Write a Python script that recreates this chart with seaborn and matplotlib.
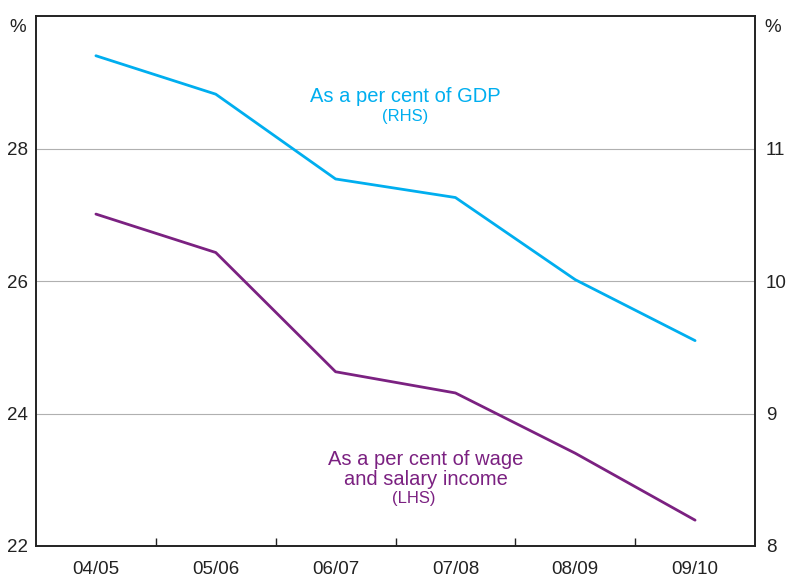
import matplotlib
matplotlib.use("Agg")
import matplotlib.pyplot as plt
import seaborn as sns
import pandas as pd

categories = ["04/05", "05/06", "06/07", "07/08", "08/09", "09/10"]
wage_share = [27.01, 26.43, 24.63, 24.31, 23.40, 22.39]   # LHS
gdp_share = [11.70, 11.41, 10.77, 10.63, 10.01, 9.55]      # RHS

sns.set_theme(style="white")
plt.rcParams['font.family'] = ['Liberation Sans', 'DejaVu Sans']

df = pd.DataFrame({"x": range(len(categories)), "wage": wage_share, "gdp": gdp_share})

fig = plt.figure(figsize=(7.87, 5.80), dpi=100)
ax = fig.add_axes([36/787, 1-546/580, (755-36)/787, (546-16)/580])
ax2 = ax.twinx()

purple = "#7B2181"
blue = "#00AEEF"

sns.lineplot(data=df, x="x", y="wage", ax=ax, color=purple, linewidth=2)
sns.lineplot(data=df, x="x", y="gdp", ax=ax2, color=blue, linewidth=2)

ax.set_xlim(-0.5, 5.5)
ax.set_ylim(22, 30)
ax2.set_ylim(8, 12)
ax.set_yticks([22, 24, 26, 28])
ax2.set_yticks([8, 9, 10, 11])
for a in (ax, ax2):
    a.set_xlabel("")
    a.set_ylabel("")
ax.yaxis.grid(True, color="#B0B0B0", linewidth=0.8)
ax.set_axisbelow(True)

ax.set_xticks(range(len(categories)))
ax.set_xticklabels(categories)
ax.set_xticks([i + 0.5 for i in range(len(categories) - 1)], minor=True)
ax.tick_params(axis="x", which="major", length=0, pad=11, labelsize=13.5, colors="#222222")
ax.tick_params(axis="x", which="minor", direction="in", length=6, width=1, color="#222222", bottom=True)
ax.tick_params(axis="y", length=0, labelsize=13.5, colors="#222222", pad=6)
ax2.tick_params(axis="y", length=0, labelsize=13.5, colors="#222222", pad=8)

for a in (ax, ax2):
    for s in a.spines.values():
        s.set_color("#222222")
        s.set_linewidth(1.2)
        s.set_visible(True)

fig.text(18/787, 1-27/580, "%", fontsize=13.5, ha="center", va="center", color="#222222")
fig.text(773/787, 1-27/580, "%", fontsize=13.5, ha="center", va="center", color="#222222")

ax.text(2.58, 28.78, "As a per cent of GDP", color=blue, fontsize=14.5, ha="center", va="center")
ax.text(2.58, 28.49, "(RHS)", color=blue, fontsize=12, ha="center", va="center")
ax.text(2.75, 23.31, "As a per cent of wage", color=purple, fontsize=14.5, ha="center", va="center")
ax.text(2.75, 23.01, "and salary income", color=purple, fontsize=14.5, ha="center", va="center")
ax.text(2.65, 22.72, "(LHS)", color=purple, fontsize=12, ha="center", va="center")

fig.savefig("out.png", dpi=100)
